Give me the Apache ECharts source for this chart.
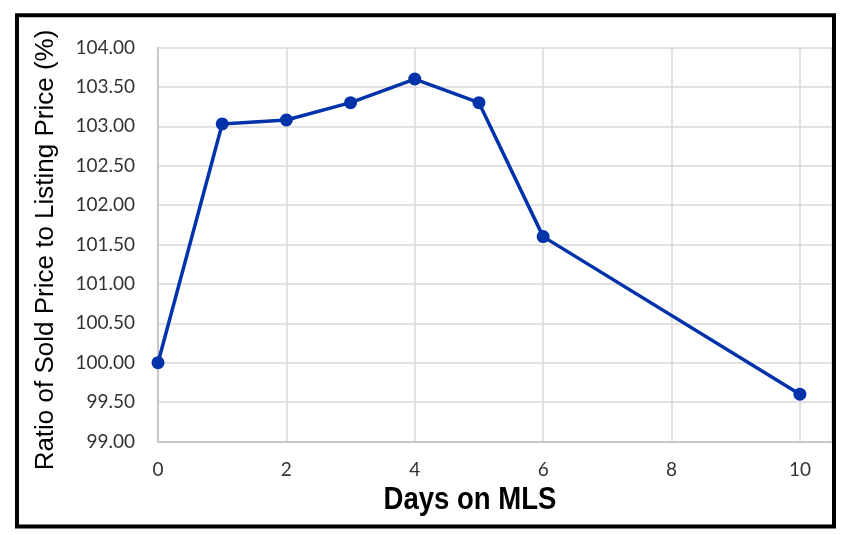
<!DOCTYPE html>
<html>
<head>
<meta charset="utf-8">
<script src="https://cdn.jsdelivr.net/npm/echarts@6/dist/echarts.min.js"></script>
<style>
html,body{margin:0;padding:0;background:#fff;}
#chart{width:849px;height:535px;}
</style>
</head>
<body>
<div id="chart"></div>
<script>
const days = [0, 1, 2, 3, 4, 5, 6, 10];
const ratios = [100.00, 103.03, 103.08, 103.30, 103.60, 103.30, 101.60, 99.60];
const xTitle = 'Days on MLS';
const yTitle = 'Ratio of Sold Price to Listing Price (%)';

const chart = echarts.init(document.getElementById('chart'), null, {renderer: 'canvas'});
const points = days.map((d, i) => [d, ratios[i]]);

chart.setOption({
  animation: false,
  backgroundColor: '#ffffff',
  grid: {left: 158, right: 17, top: 47.5, bottom: 93.5, containLabel: false},
  xAxis: {
    type: 'value', min: 0, max: 10.5, interval: 2,
    axisLine: {show: true, lineStyle: {color: '#bfbfbf', width: 1.5}},
    axisTick: {show: false},
    splitLine: {show: true, lineStyle: {color: '#d9d9d9', width: 1.5}},
    axisLabel: {
      showMaxLabel: false, margin: 19,
      fontFamily: 'Lato', fontSize: 19, color: '#333333',
      formatter: v => (Number.isInteger(v) ? String(v) : '')
    }
  },
  yAxis: {
    type: 'value', min: 99, max: 104, interval: 0.5,
    axisLine: {show: true, lineStyle: {color: '#bfbfbf', width: 1.5}},
    axisTick: {show: false},
    splitLine: {show: true, lineStyle: {color: '#d9d9d9', width: 1.5}},
    axisLabel: {
      margin: 23, fontFamily: 'Lato', fontSize: 19, color: '#333333',
      formatter: v => v.toFixed(2)
    }
  },
  series: [{
    type: 'line',
    data: points,
    symbol: 'circle',
    symbolSize: 13,
    lineStyle: {color: '#0033aa', width: 3.5},
    itemStyle: {color: '#0033aa'}
  }],
  graphic: [
    {
      type: 'text', x: 470, y: 500, z: 10, scaleX: 0.86,
      style: {text: xTitle, fontFamily: '"Liberation Sans", Arial', fontWeight: 'bold',
        fontSize: 32, fill: '#000', align: 'center', verticalAlign: 'middle'}
    },
    {
      type: 'text', x: 46, y: 250, rotation: Math.PI / 2, z: 10,
      style: {text: yTitle, fontFamily: '"Liberation Sans", Arial', fontSize: 26, fill: '#000',
        align: 'center', verticalAlign: 'middle'}
    },
    {
      type: 'rect', z: 20,
      shape: {x: 17, y: 15.3, width: 817, height: 511.2},
      style: {fill: 'none', stroke: '#000', lineWidth: 4}
    }
  ]
});
</script>
</body>
</html>
